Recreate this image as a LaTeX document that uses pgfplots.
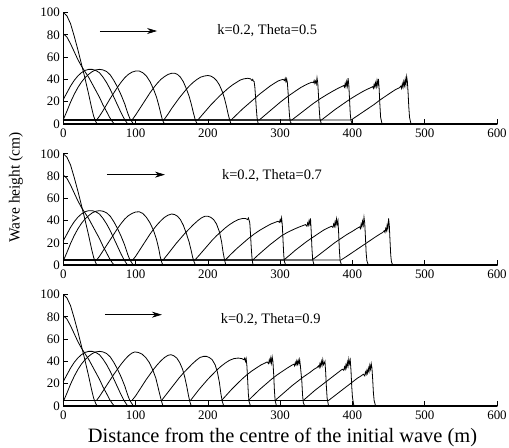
\documentclass[border=0pt]{standalone}
\usepackage{fontspec}
\setmainfont{Liberation Serif}
\usepackage{pgfplots}
\usepackage{pgfplotstable}
\pgfplotsset{compat=1.18}
\usetikzlibrary{arrows.meta}

\pgfplotstableread{
x y
0 100
5 97
10 90
15 79
20 67
25 54
30 41
35 27
39 15
42 7
45 2
47 0
600 0
}\pone
\pgfplotstableread{
x y
0 81
5 78
10 72
15 65
20 58
25 52
30 47
35 42
40 36
45 30
50 24
55 17
60 11
64 6
68 2
71 0
600 0
}\ptwo
\pgfplotstableread{
x y
0 22
5 28
10 34
15 39
20 43
25 46
30 48
35 49
40 49
45 48
50 46
55 42
60 37
65 31
70 24
75 17
80 10
84 5
88 1
90 0
600 0
}\pthree
\pgfplotstableread{
x y
0 4
5 11.5
10 19.5
15 26.5
20 32.5
25 37.5
30 41.5
35 44.5
40 47
45 48.5
50 49
55 48.5
60 47
65 44
70 39
75 33
80 26
85 18
89 10
92 5
95 2
97 0
600 0
}\pfour

\pgfplotsset{
  panel/.style={
    scale only axis, width=433.7bp, height=111.5bp,
    xmin=0, xmax=600, ymin=0, ymax=100,
    axis x line=bottom, axis y line=left,
    axis line style={-},
    x axis line style={line width=2bp},
    y axis line style={line width=1bp},
    xtick={0,100,...,600}, ytick={0,20,...,100},
    tick align=inside, major tick length=5bp,
    tick style={line width=0.7bp, black},
    ticklabel style={font=\fontsize{13}{13}\selectfont},
    xticklabel={\pgfmathparse{int(round(\tick))}\pgfmathresult},
    yticklabel={\pgfmathparse{int(round(\tick))}\pgfmathresult},
    xticklabel style={yshift=-1bp},
    clip=false,
    cycle list={black,line width=0.8bp,mark=none\\},
  }
}

\begin{document}
\begin{tikzpicture}
\path[use as bounding box] (0,0) rectangle (509bp,448bp);

% ---------------- top: Theta = 0.5
\begin{axis}[panel, at={(63.3bp,324bp)}, anchor=south west]
\addplot table {\pone};
\addplot table {\ptwo};
\addplot table {\pthree};
\addplot table {\pfour};
\addplot coordinates {(0,3.5)(46,3.5)(50,7)(55,12)(60,17.5)(65,23)(70,28)(75,33)(80,37.5)(85,41.5)(90,44.5)(95,46.5)(100,47.5)(105,47.5)(110,46)(115,43)(120,38)(125,31)(129,24)(132,17)(135,9)(137,4)(139,1)(141,0)(600,0)};
\addplot coordinates {(0,3.5)(95,3.5)(100,8)(105,13)(110,18)(115,23)(120,28)(125,32.5)(130,36.5)(135,40)(140,42.5)(145,44.5)(150,45.5)(154,45.5)(158,44.5)(162,42)(166,38)(170,32)(174,25)(177,18)(180,10)(182,5)(184,1.5)(186,0)(600,0)};
\addplot coordinates {(0,3.5)(139,3.5)(145,9)(150,14)(155,18.5)(160,23)(165,27)(170,31)(175,34.5)(180,37.5)(185,40)(190,42)(195,43)(200,43.5)(204,43)(208,41.5)(212,39)(216,35)(220,29)(223,23)(226,15)(228,9)(230,4)(232,0)(600,0)};
\addplot coordinates {(0,3.5)(186,3.5)(192,8)(198,12.5)(204,17)(210,21)(216,25)(222,28.5)(228,32)(234,35)(240,37.5)(245,39.5)(250,40.5)(255,41)(259,40.5)(261,39)(262,40)(263,38.5)(264,38)(265,33)(266,24)(267,14)(268,6)(269,2)(270,0)(600,0)};
\addplot coordinates {(0,3.5)(232,3.5)(240,8.5)(248,13.5)(256,18)(264,22.5)(272,27)(280,31)(286,34)(292,36.5)(297,38.5)(301,39.5)(304,40)(306,39)(307,41)(308,38)(309,40.5)(310,37)(311,28)(312,16)(313,7)(314,2)(316,0)(600,0)};
\addplot coordinates {(0,3.5)(271,3.5)(280,8.5)(290,14)(300,19.5)(310,24.5)(320,29)(328,32.5)(335,35)(340,36.5)(344,37.5)(346,37)(347,39)(348,36.5)(349,38.5)(350,36)(351,41.5)(352,37)(353,26)(354,14)(355,5)(357,0)(600,0)};
\addplot coordinates {(0,3.5)(316,3.5)(325,8)(335,13)(345,18)(355,22.5)(365,26.5)(373,29.5)(380,32)(385,33.5)(388,34.5)(389,33)(390,36.5)(391,33.5)(392,38)(393,34)(394,41)(395,35)(396,22)(397,9)(398,3)(400,0)(600,0)};
\addplot coordinates {(0,3.5)(357,3.5)(366,8)(376,13)(386,17.5)(396,22)(406,26)(414,29)(420,31)(425,32.5)(428,33.5)(429,32)(430,35.5)(431,33)(432,37)(433,33.5)(434,39)(435,35)(436,40.5)(437,31)(438,17)(439,6)(441,0)(600,0)};
\addplot coordinates {(0,3.5)(398,3.5)(406,7)(414,10.5)(422,14)(430,17.5)(438,21.5)(446,25)(454,28.5)(460,31)(465,32.5)(467,34)(468,32)(469,36)(470,33)(471,38)(472,34.5)(473,40)(474,35)(475,42.5)(476,38)(477,28)(478,15)(479,6)(481,0)(600,0)};
\draw[-{Stealth[length=10bp,width=6bp]}, line width=0.7bp] (axis cs:50.7,83.4) -- (axis cs:129.7,83.4);
\node[anchor=base west, inner sep=0pt, font=\fontsize{14.5}{14.5}\selectfont] at (axis cs:212.8,80.7) {k=0.2, Theta=0.5};
\end{axis}

% ---------------- middle: Theta = 0.7
\begin{axis}[panel, at={(63.3bp,182.7bp)}, anchor=south west]
\addplot table {\pone};
\addplot table {\ptwo};
\addplot table {\pthree};
\addplot table {\pfour};
\addplot coordinates {(0,4.7)(46,4.7)(50,8)(55,13)(60,18)(65,23)(70,28)(75,33)(80,37.5)(85,41.5)(90,44.5)(95,46.5)(100,47.8)(105,48)(110,46.5)(115,43)(120,38)(125,31)(129,23)(132,15)(134,8)(136,3)(138,0)(600,0)};
\addplot coordinates {(0,4.7)(96,4.7)(100,8)(105,13)(110,18)(115,23)(120,28)(125,32.5)(130,36.5)(135,40)(140,43)(145,45)(150,46)(154,45.5)(158,44)(162,41)(166,36)(170,29)(174,21)(177,13)(179,7)(181,3)(183,0)(600,0)};
\addplot coordinates {(0,4.7)(138,4.7)(144,9.5)(150,14.5)(156,19.5)(162,24)(168,28.5)(174,32.5)(180,36.5)(186,40)(191,42.5)(196,44)(200,44)(204,43)(208,41)(212,37)(216,30)(219,21)(221,12)(223,5)(225,0)(600,0)};
\addplot coordinates {(0,4.7)(182,4.7)(188,9)(194,13.5)(200,18)(206,22.5)(212,26.5)(218,30)(224,33.5)(230,36.5)(236,39)(242,41)(248,42)(252,42)(255,41)(256,42.5)(257,40.5)(258,38)(259,28)(260,16)(261,7)(262,2)(263,0)(600,0)};
\addplot coordinates {(0,4.7)(224,4.7)(232,10)(240,15)(248,19.5)(256,24)(264,28)(272,31.5)(280,34.5)(287,37)(293,38.5)(297,39.5)(299,38.5)(300,41)(301,39)(302,42.5)(303,36)(304,22)(305,9)(306,3)(308,0)(600,0)};
\addplot coordinates {(0,4.7)(262,4.7)(270,9.5)(278,14)(286,18.5)(294,22.5)(302,26.5)(310,29.5)(318,32)(325,34)(331,35.5)(335,36.5)(337,35)(338,38)(339,36)(340,40)(341,37)(342,42)(343,30)(344,15)(345,5)(347,0)(600,0)};
\addplot coordinates {(0,4.7)(305,4.7)(313,9)(321,13.5)(329,17.5)(337,21.5)(345,25)(353,28.5)(360,31.5)(366,33.5)(371,35)(373,34)(374,37)(375,35)(376,39)(377,35.5)(378,41.5)(379,37)(380,40)(381,28)(382,13)(383,4)(385,0)(600,0)};
\addplot coordinates {(0,4.7)(344,4.7)(352,8.5)(360,12.5)(368,16.5)(376,20.5)(384,24)(392,27.5)(400,30.5)(406,33)(410,34.5)(411,33)(412,37)(413,34.5)(414,39.5)(415,36)(416,43)(417,38)(418,25)(419,11)(420,4)(422,0)(600,0)};
\addplot coordinates {(0,4.7)(384,4.7)(392,8)(400,11.5)(408,15)(416,18.5)(424,22)(432,25.5)(438,28)(442,29.5)(444,31)(445,29.5)(446,33)(447,31)(448,36)(449,32.5)(450,42)(451,36)(452,22)(453,9)(454,3)(456,0)(600,0)};
\draw[-{Stealth[length=10bp,width=6bp]}, line width=0.7bp] (axis cs:60.4,81.3) -- (axis cs:140.6,81.3);
\node[anchor=base west, inner sep=0pt, font=\fontsize{14.5}{14.5}\selectfont] at (axis cs:219.4,76.8) {k=0.2, Theta=0.7};
\end{axis}

% ---------------- bottom: Theta = 0.9
\begin{axis}[panel, at={(63.3bp,42bp)}, anchor=south west]
\addplot table {\pone};
\addplot table {\ptwo};
\addplot table {\pthree};
\addplot table {\pfour};
\addplot coordinates {(0,5)(46,5)(50,8.5)(55,13.5)(60,18.5)(65,23.5)(70,28.5)(75,33)(80,37.5)(85,41.5)(90,45)(95,47.5)(99,48.5)(104,48)(109,46.5)(114,43.5)(119,39)(124,32)(128,25)(131,17)(134,9)(136,4)(138,0)(600,0)};
\addplot coordinates {(0,5)(95,5)(100,9)(105,14)(110,19)(115,24)(120,28.5)(125,33)(130,37)(135,40.5)(140,43.5)(145,45.5)(149,46)(153,45)(157,43)(161,39)(165,33)(168,26)(171,17)(173,10)(175,4)(177,0)(600,0)};
\addplot coordinates {(0,5)(136,5)(142,10)(148,15)(154,20)(160,25)(166,29.5)(172,33.5)(178,37.5)(184,41)(189,43.5)(194,44.5)(198,44.5)(202,43.5)(206,41.5)(210,37)(213,31)(216,21)(218,11)(220,4)(222,0)(600,0)};
\addplot coordinates {(0,5)(176,5)(182,10)(188,15)(194,19.5)(200,24)(206,28)(212,32)(218,35.5)(224,38.5)(230,41)(236,42.5)(242,43)(247,42.5)(250,41.5)(251,43)(252,40)(253,42.5)(254,36)(255,24)(256,11)(257,4)(259,0)(600,0)};
\addplot coordinates {(0,5)(219,5)(226,10)(233,15)(240,19.5)(247,24)(254,28)(261,31.5)(268,34.5)(274,37)(279,38.5)(282,39.5)(284,38)(285,41.5)(286,39)(287,43)(288,38.5)(289,44)(290,40)(291,29)(292,15)(293,5)(295,0)(600,0)};
\addplot coordinates {(0,5)(256,5)(264,10)(272,15)(280,19.5)(288,24)(296,28)(304,31.5)(311,34.5)(316,36.5)(319,37.5)(320,36)(321,39)(322,37)(323,40.5)(324,37.5)(325,41)(326,38)(327,41.5)(328,36)(330,22)(331,10)(332,3)(334,0)(600,0)};
\addplot coordinates {(0,5)(293,5)(301,9.5)(309,14)(317,18.5)(325,22.5)(333,26.5)(341,30)(347,33)(351,34.5)(353,36)(354,34.5)(355,38)(356,35.5)(357,40)(358,36.5)(359,41.5)(360,37)(362,40)(363,30)(364,17)(365,7)(367,0)(600,0)};
\addplot coordinates {(0,5)(332,5)(340,9.5)(348,14)(356,18)(364,22)(371,25.5)(377,28.5)(382,31)(386,33)(388,32)(389,35)(390,33)(391,37)(392,34.5)(393,39.5)(394,36)(395,42)(396,38)(397,41)(398,32)(399,18)(400,8)(402,0)(600,0)};
\addplot coordinates {(0,5)(367,5)(374,8.5)(381,12)(388,15.5)(395,19)(401,22)(407,25)(412,27)(415,28.5)(417,27)(418,30.5)(419,28.5)(420,32)(421,29.5)(422,34)(423,31)(424,36.5)(425,33)(426,38)(427,34)(428,24)(429,12)(430,5)(432,0)(600,0)};
\draw[-{Stealth[length=10bp,width=6bp]}, line width=0.7bp] (axis cs:57.6,81.9) -- (axis cs:136.4,81.9);
\node[anchor=base west, inner sep=0pt, font=\fontsize{14.5}{14.5}\selectfont] at (axis cs:217.6,73.8) {k=0.2, Theta=0.9};
\end{axis}

\node[rotate=90, anchor=base, inner sep=0pt, font=\fontsize{15.5}{15.5}\selectfont] at (19.5bp,260.5bp) {Wave height (cm)};
\node[anchor=base, inner sep=0pt, font=\fontsize{20.5}{20.5}\selectfont] at (282.5bp,5.7bp) {Distance from the centre of the initial wave (m)};
\end{tikzpicture}
\end{document}
